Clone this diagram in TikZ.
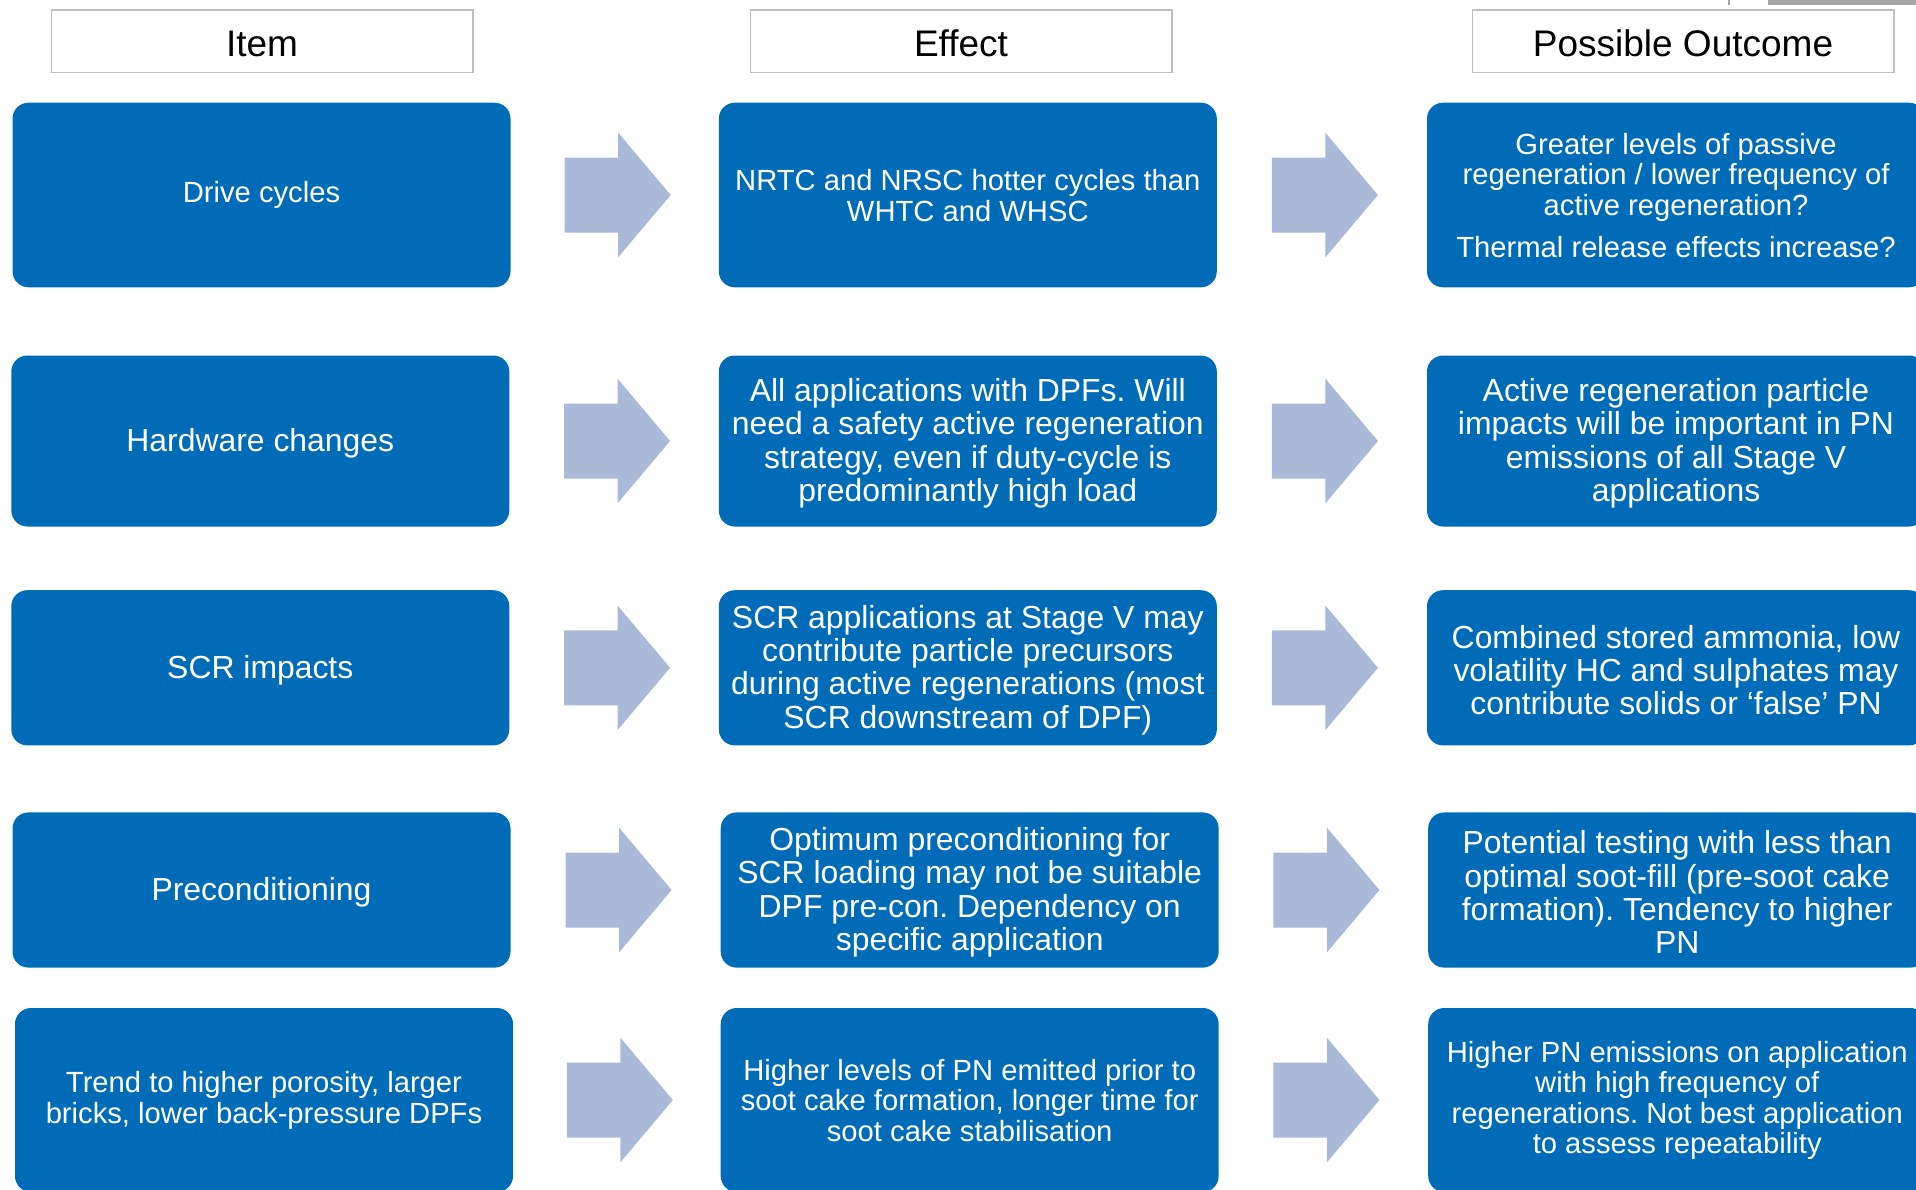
\documentclass[tikz,border=0pt]{standalone}
\usepackage{fontspec}
\setmainfont{Liberation Sans}
\usetikzlibrary{calc}
\frenchspacing
\definecolor{boxblue}{RGB}{0,108,183}
\definecolor{arrowblue}{RGB}{170,185,216}
\definecolor{hdrgray}{RGB}{191,191,191}
\definecolor{bargray}{RGB}{166,166,166}
\newcommand\fsBig{\fontsize{15.95}{16.7}\selectfont}
\newcommand\fsSmall{\fontsize{14.6}{15.25}\selectfont}
% block arrow centred between two boxes (coordinates in px, y downwards)
\newcommand\blockarrow[2]{%
  \path ($(#1.east)!0.5!(#2.west)$) coordinate (am);
  \fill[arrowblue] ([shift={(-50,-37.5)}]am) -- ++(53.5,0) -- ++(0,-24.8)
    -- ++(52.5,62.3) -- ++(-52.5,62.3) -- ++(0,-24.8) -- ++(-53.5,0) -- cycle;}
% blue box: name, centre, height, font style, text
\newcommand\bluebox[5]{%
  \node[box, minimum height=#3, label={[boxtext,#4]center:#5}] (#1) at (#2) {};}
\begin{document}
\begin{tikzpicture}[x=0.5pt,y=-0.5pt,
  hdr/.style={draw=hdrgray, line width=0.75pt, fill=white, minimum width=210.75pt,
    minimum height=31.25pt, inner sep=0pt, text=black, text height=15.7pt, text depth=0pt,
    font=\fontsize{18.5}{22}\selectfont},
  box/.style={fill=boxblue, rounded corners=8pt, minimum width=249pt, inner sep=0pt},
  boxtext/.style={text=white, align=center, inner sep=0pt},
  big/.style={font=\fsBig, yshift=-1.1pt},
  small/.style={font=\fsSmall, yshift=-0.2pt}]
\useasboundingbox (0,0) rectangle (1916,1189);
\clip (0,0) rectangle (1916,1189);
\fill[white] (0,0) rectangle (1916,1189);

% strip along the top edge
\fill[bargray] (1768,0) rectangle (1916,5);
\draw[bargray, line width=1pt] (1729,0) -- (1729,5);

% column headers
\node[hdr] (hItem) at (262,41) {Item};
\node[hdr] (hEffect) at (961,41) {Effect};
\node[hdr] (hOutcome) at (1683,41) {Possible Outcome};

% row 1
\bluebox{r1c1}{261.5,195}{92.3pt}{small}{Drive cycles}
\bluebox{r1c2}{967.8,195}{92.3pt}{small}{NRTC and NRSC hotter cycles than\\WHTC and WHSC}
\bluebox{r1c3}{1676,195}{92.3pt}{small}{Greater levels of passive\\regeneration / lower frequency of\\active regeneration?\\[6pt]Thermal release effects increase?}

% row 2
\bluebox{r2c1}{260.3,441}{85.5pt}{big}{Hardware changes}
\bluebox{r2c2}{967.8,441}{85.5pt}{big}{All applications with DPFs. Will\\need a safety active regeneration\\strategy, even if duty-cycle is\\predominantly high load}
\bluebox{r2c3}{1676,441}{85.5pt}{big}{Active regeneration particle\\impacts will be important in PN\\emissions of all Stage V\\applications}

% row 3
\bluebox{r3c1}{260.3,667.8}{77.6pt}{big}{SCR impacts}
\bluebox{r3c2}{967.8,667.8}{77.6pt}{big}{SCR applications at Stage V may\\contribute particle precursors\\during active regenerations (most\\SCR downstream of DPF)}
\bluebox{r3c3}{1676,667.8}{77.6pt}{big}{Combined stored ammonia, low\\volatility HC and sulphates may\\contribute solids or ‘false’ PN}

% row 4
\bluebox{r4c1}{261.5,890}{77.6pt}{big}{Preconditioning}
\bluebox{r4c2}{969.7,890}{77.6pt}{big}{Optimum preconditioning for\\SCR loading may not be suitable\\DPF pre-con. Dependency on\\specific application}
\bluebox{r4c3}{1677.2,890}{77.6pt}{big}{Potential testing with less than\\optimal soot-fill (pre-soot cake\\formation). Tendency to higher\\PN}

% row 5
\bluebox{r5c1}{264,1100}{92pt}{small}{Trend to higher porosity, larger\\bricks, lower back-pressure DPFs}
\bluebox{r5c2}{969.7,1100}{92pt}{small}{Higher levels of PN emitted prior to\\soot cake formation, longer time for\\soot cake stabilisation}
\bluebox{r5c3}{1677.2,1100}{92pt}{small}{Higher PN emissions on application\\with high frequency of\\regenerations. Not best application\\to assess repeatability}

% arrows between the columns
\foreach \r in {1,...,5}{
  \blockarrow{r\r c1}{r\r c2}
  \blockarrow{r\r c2}{r\r c3}
}
\end{tikzpicture}
\end{document}
